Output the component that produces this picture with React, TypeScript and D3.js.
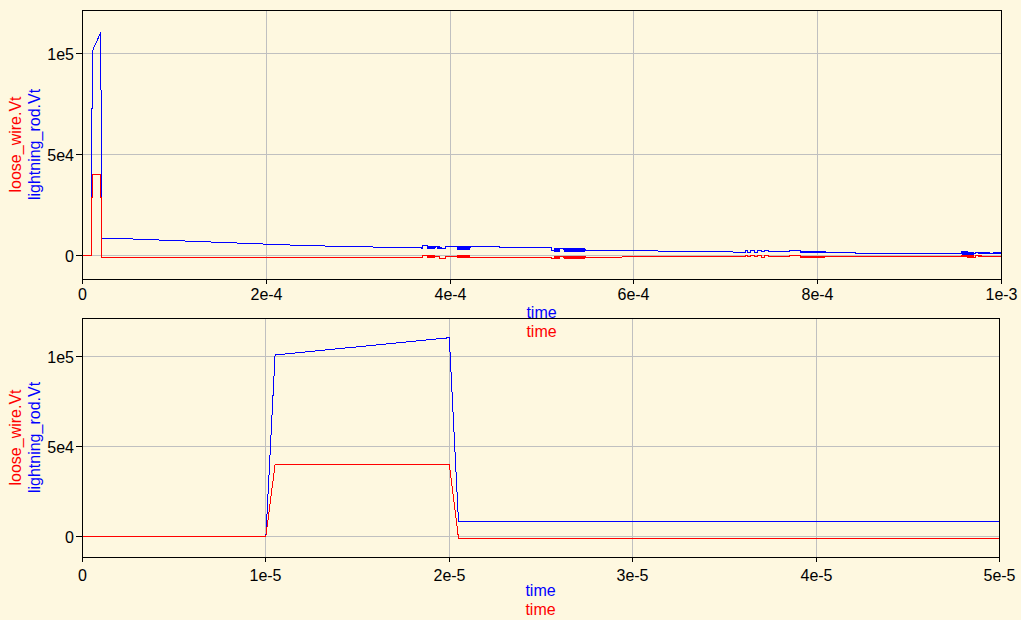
import React from 'react';
import * as d3 from 'd3';

// ---------- data (time in microseconds, voltage in volts) ----------
const xTicksTop = [0, 200, 400, 600, 800, 1000];
const xTickLabelsTop = ['0', '2e-4', '4e-4', '6e-4', '8e-4', '1e-3'];
const xTicksBottom = [0, 10, 20, 30, 40, 50];
const xTickLabelsBottom = ['0', '1e-5', '2e-5', '3e-5', '4e-5', '5e-5'];
const yTicks = [0, 50000, 100000];
const yTickLabels = ['0', '5e4', '1e5'];
const seriesNames = ['loose_wire.Vt', 'lightning_rod.Vt'];
const xAxisTitle = 'time';

const lightningRodVt: [number, number][] = [
  [0, 0], [10, 0], [10.5, 100900], [20, 110500], [20.5, 8400], [50, 8300], [243, 4950],
  [370, 3760], [370, 4950], [375, 4950], [375, 4100], [384, 4100], [384, 4450],
  [389, 4450], [389, 3370], [395, 3370], [395, 4450], [408, 4450], [408, 3900],
  [422, 3900], [422, 4450], [454, 4450], [454, 3960], [510, 3960], [510, 2770],
  [517, 2770], [517, 3300], [523, 3300], [523, 2900], [532, 2900], [532, 3000],
  [537, 3000], [537, 2770], [542, 2770], [542, 3000], [547, 3000], [547, 2770],
  [710, 1780], [721, 1780], [721, 2475], [724, 2475], [724, 1780], [727, 1780],
  [727, 2475], [731, 2475], [731, 1780], [734, 1780], [734, 2475], [739, 2475],
  [739, 1900], [742, 1900], [742, 2475], [746, 2475], [746, 2200], [769, 2200],
  [769, 2475], [781, 2475], [781, 2000], [808, 2000], [808, 1780], [841, 1780],
  [841, 1140], [957, 1140], [957, 1980], [963, 1980], [963, 1300], [972, 1300],
  [972, 1700], [978, 1700], [978, 1100], [1000, 1100],
];

const looseWireVt: [number, number][] = [
  [0, 0], [10, 0], [10.5, 40000], [20, 40000], [20.5, -1000], [370, -850],
  [370, 200], [375, 200], [375, -600], [384, -600], [384, -300], [389, -300],
  [389, -1300], [395, -1300], [395, -300], [408, -300], [408, -900], [422, -900],
  [422, -850], [510, -800], [510, -1300], [517, -1300], [517, -500], [523, -500],
  [523, -1100], [532, -1100], [532, -500], [547, -500], [547, -700], [721, -600],
  [721, 0], [724, 0], [724, -600], [727, -600], [727, 0], [731, 0], [731, -600],
  [734, -600], [734, 0], [739, 0], [739, -900], [742, -900], [742, 0], [746, 0],
  [746, -500], [769, -500], [769, 0], [781, 0], [781, -500], [808, -500],
  [808, -550], [957, -450], [957, 100], [963, 100], [963, -700], [972, -700],
  [972, -100], [978, -100], [978, -400], [1000, -400],
];

// dense oscillation blocks: [tStart, tEnd, low, high]
const lightningRodBands: [number, number, number, number][] = [
  [375, 384, 3270, 4950], [386, 391, 3370, 4450], [408, 422, 2970, 4750],
  [513, 520, 1780, 3960], [524, 547, 1780, 3960],
  [746, 752, 1780, 2475], [756, 764, 1780, 2475], [781, 808, 1480, 2475],
  [957, 970, 500, 1980], [974, 988, 640, 1700], [991, 1000, 640, 1700],
];
const looseWireBands: [number, number, number, number][] = [
  [375, 384, -1400, 200], [408, 422, -1400, 300],
  [513, 520, -1500, -200], [524, 547, -1500, -200],
  [781, 808, -1000, 0],
  [957, 970, -900, 100], [974, 988, -900, 0], [991, 1000, -900, 0],
];

// ---------- style ----------
const BG = '#fef8e0';
const BLUE = '#0000ff';
const RED = '#ff0000';
const GRID = '#c0c0c0';
const FONT = '"Liberation Sans", Arial, sans-serif';
const Y_DOMAIN: [number, number] = [-11800, 121200];

type Box = { left: number; right: number; top: number; bottom: number };

function Panel(props: {
  id: string;
  box: Box;
  xDomain: [number, number];
  xTicks: number[];
  xLabels: string[];
  tickBaseline: number;
  titleBaselines: [number, number];
}) {
  const { id, box, xDomain, xTicks, xLabels, tickBaseline, titleBaselines } = props;
  const x = d3.scaleLinear().domain(xDomain).range([box.left + 0.5, box.right + 0.5]);
  const y = d3.scaleLinear().domain(Y_DOMAIN).range([box.bottom + 0.5, box.top + 0.5]);
  const line = d3
    .line<[number, number]>()
    .x((d) => x(d[0]))
    .y((d) => y(d[1]));
  const cx = (box.left + box.right) / 2;
  const cy = (box.top + box.bottom) / 2;
  const snap = (v: number) => Math.round(v - 0.5) + 0.5;

  return (
    <g>
      <defs>
        <clipPath id={id}>
          <rect x={box.left} y={box.top} width={box.right - box.left + 1} height={box.bottom - box.top + 1} />
        </clipPath>
      </defs>
      {/* grid */}
      {xTicks.map((t, i) => (
        <line key={'gx' + i} x1={snap(x(t))} x2={snap(x(t))} y1={box.top} y2={box.bottom} stroke={GRID} strokeWidth={1} shapeRendering="crispEdges" />
      ))}
      {yTicks.map((v, i) => (
        <line key={'gy' + i} x1={box.left} x2={box.right} y1={snap(y(v))} y2={snap(y(v))} stroke={GRID} strokeWidth={1} shapeRendering="crispEdges" />
      ))}
      {/* series */}
      <g clipPath={`url(#${id})`}>
        {lightningRodBands.map((b, i) => (
          <rect key={'bb' + i} x={x(b[0])} width={Math.max(1, x(b[1]) - x(b[0]))} y={y(b[3])} height={Math.max(1, y(b[2]) - y(b[3]))} fill={BLUE} shapeRendering="crispEdges" />
        ))}
        <path d={line(lightningRodVt) || ''} fill="none" stroke={BLUE} strokeWidth={1} shapeRendering="crispEdges" />
        {looseWireBands.map((b, i) => (
          <rect key={'rb' + i} x={x(b[0])} width={Math.max(1, x(b[1]) - x(b[0]))} y={y(b[3])} height={Math.max(1, y(b[2]) - y(b[3]))} fill={RED} shapeRendering="crispEdges" />
        ))}
        <path d={line(looseWireVt) || ''} fill="none" stroke={RED} strokeWidth={1} shapeRendering="crispEdges" />
      </g>
      {/* frame */}
      <rect x={box.left + 0.5} y={box.top + 0.5} width={box.right - box.left} height={box.bottom - box.top} fill="none" stroke="#000" strokeWidth={1} shapeRendering="crispEdges" />
      {/* x ticks */}
      {xTicks.map((t, i) => (
        <g key={'xt' + i}>
          <line x1={snap(x(t))} x2={snap(x(t))} y1={box.bottom} y2={box.bottom + 5} stroke="#000" strokeWidth={1} shapeRendering="crispEdges" />
          <text x={snap(x(t))} y={tickBaseline} textAnchor="middle" fontFamily={FONT} fontSize={16} fill="#000">
            {xLabels[i]}
          </text>
        </g>
      ))}
      {/* y ticks */}
      {yTicks.map((v, i) => (
        <g key={'yt' + i}>
          <line x1={box.left - 6} x2={box.left} y1={snap(y(v))} y2={snap(y(v))} stroke="#000" strokeWidth={1} shapeRendering="crispEdges" />
          <text x={box.left - 8} y={snap(y(v)) + 6} textAnchor="end" fontFamily={FONT} fontSize={16} fill="#000">
            {yTickLabels[i]}
          </text>
        </g>
      ))}
      {/* axis titles */}
      <text x={cx} y={titleBaselines[0]} textAnchor="middle" fontFamily={FONT} fontSize={16} fill={BLUE}>
        {xAxisTitle}
      </text>
      <text x={cx} y={titleBaselines[1]} textAnchor="middle" fontFamily={FONT} fontSize={16} fill={RED}>
        {xAxisTitle}
      </text>
      <text transform={`translate(21,${cy}) rotate(-90)`} textAnchor="middle" fontFamily={FONT} fontSize={16} fill={RED}>
        {seriesNames[0]}
      </text>
      <text transform={`translate(39.5,${cy}) rotate(-90)`} textAnchor="middle" fontFamily={FONT} fontSize={16} fill={BLUE}>
        {seriesNames[1]}
      </text>
    </g>
  );
}

export default function App() {
  return (
    <svg width={1021} height={620} style={{ position: 'absolute', left: 0, top: 0, display: 'block' }}>
      <rect x={0} y={0} width={1021} height={620} fill={BG} />
      <Panel
        id="clipTop"
        box={{ left: 82, right: 1001, top: 10, bottom: 279 }}
        xDomain={[0, 1000]}
        xTicks={xTicksTop}
        xLabels={xTickLabelsTop}
        tickBaseline={300}
        titleBaselines={[318, 337]}
      />
      <Panel
        id="clipBottom"
        box={{ left: 82, right: 999, top: 318, bottom: 557 }}
        xDomain={[0, 50]}
        xTicks={xTicksBottom}
        xLabels={xTickLabelsBottom}
        tickBaseline={581}
        titleBaselines={[596, 615]}
      />
    </svg>
  );
}
